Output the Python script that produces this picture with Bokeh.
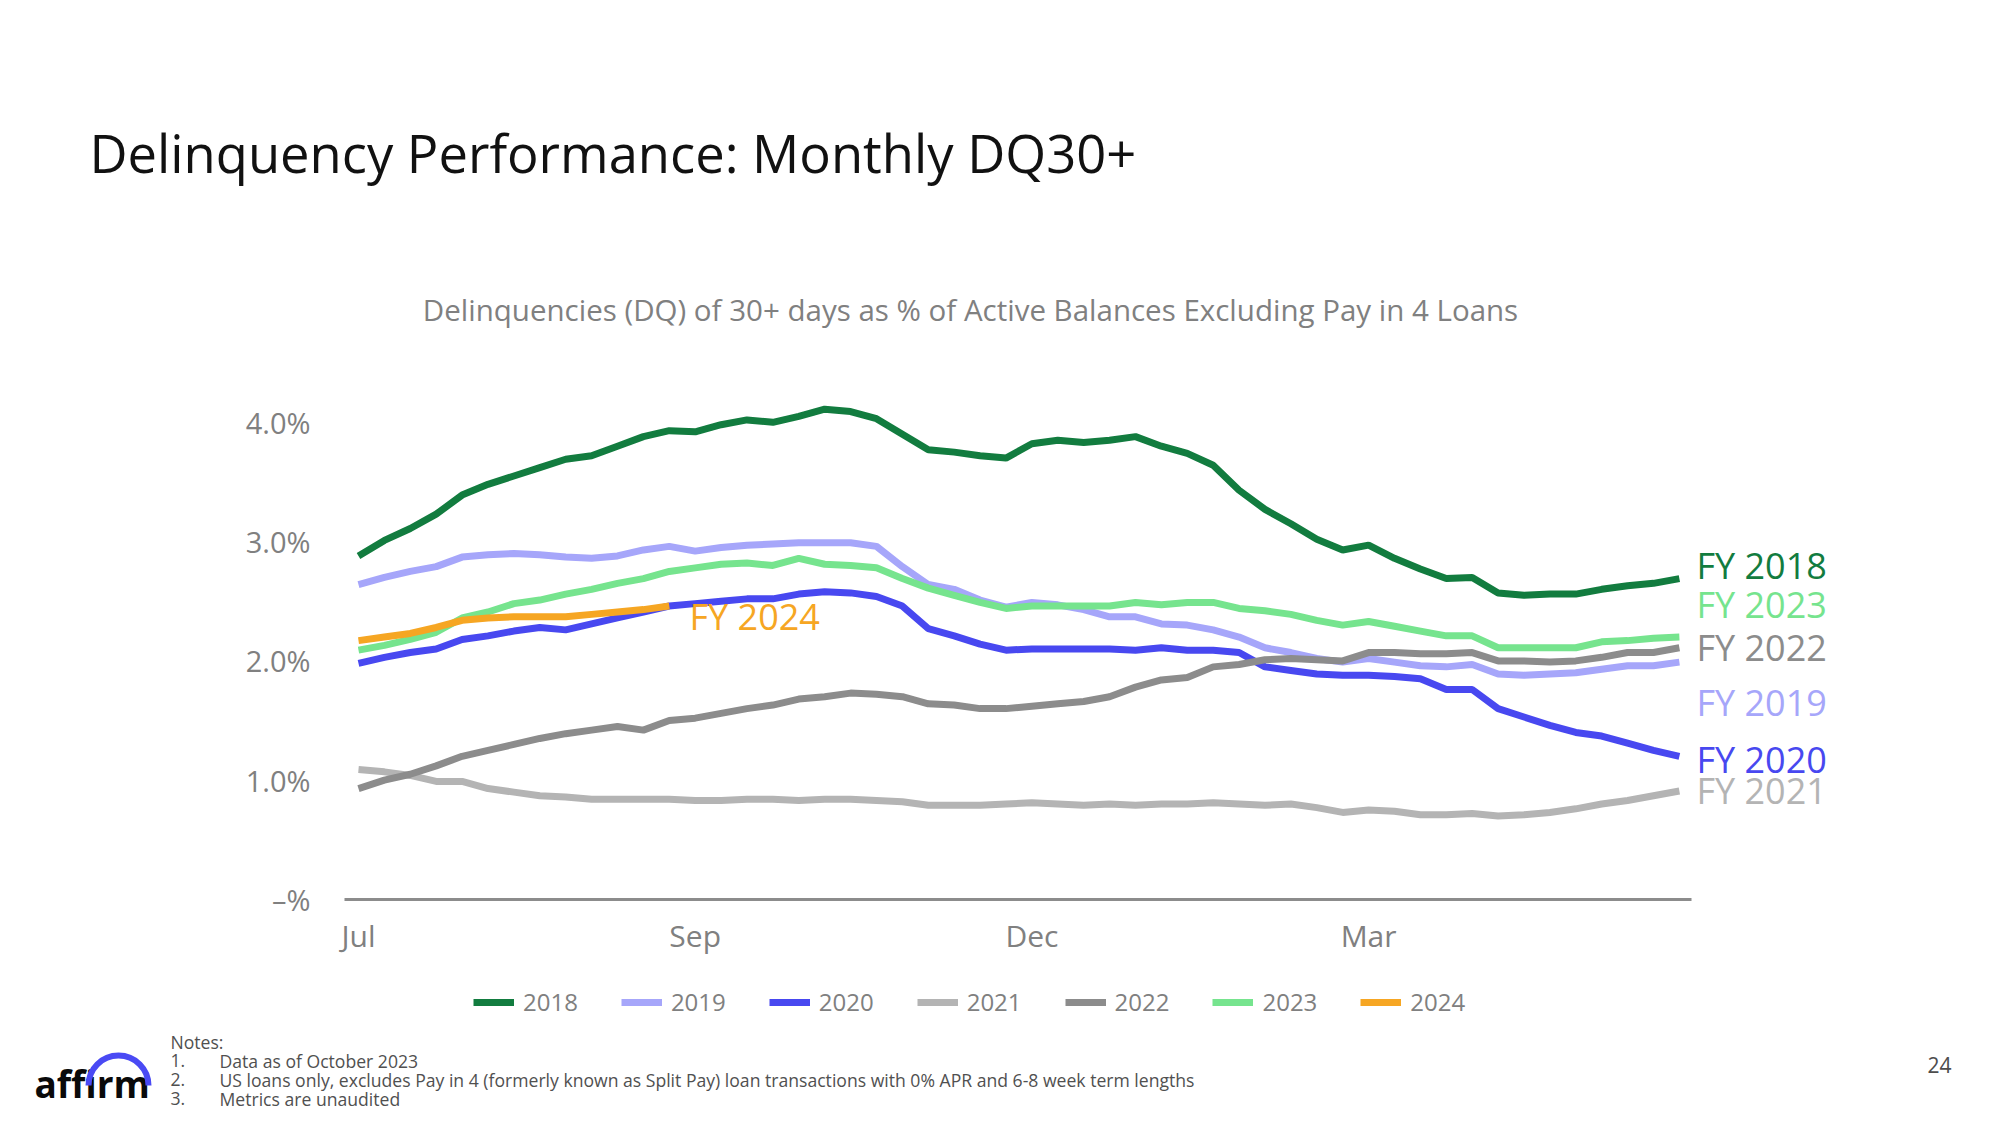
import numpy as np
from bokeh.plotting import figure
from bokeh.models import Range1d, FixedTicker, Legend, LegendItem
from bokeh.layouts import column
from bokeh.embed import file_html
from bokeh.resources import INLINE
from bokeh.core.properties import value

FONT = "Open Sans"

# ---------------- data ----------------
years = ["2018", "2019", "2020", "2021", "2022", "2023", "2024"]
x_tick_positions = [0, 13, 26, 39]
x_tick_labels = ["Jul", "Sep", "Dec", "Mar"]
y_tick_values = [0, 1, 2, 3, 4]
y_tick_labels = ["\u2013%", "1.0%", "2.0%", "3.0%", "4.0%"]

fy2018 = [2.88, 3.01, 3.11, 3.23, 3.39, 3.48, 3.55, 3.62, 3.69, 3.72,
          3.80, 3.88, 3.93, 3.92, 3.98, 4.02, 4.00, 4.05, 4.11, 4.09,
          4.03, 3.90, 3.77, 3.75, 3.72, 3.70, 3.82, 3.85, 3.83, 3.85,
          3.88, 3.80, 3.74, 3.64, 3.43, 3.27, 3.15, 3.02, 2.93, 2.97,
          2.86, 2.77, 2.69, 2.70, 2.57, 2.55, 2.56, 2.56, 2.60, 2.63,
          2.65, 2.69]
fy2019 = [2.64, 2.70, 2.75, 2.79, 2.87, 2.89, 2.90, 2.89, 2.87, 2.86,
          2.88, 2.93, 2.96, 2.92, 2.95, 2.97, 2.98, 2.99, 2.99, 2.99,
          2.96, 2.79, 2.64, 2.60, 2.51, 2.45, 2.49, 2.47, 2.43, 2.37,
          2.37, 2.31, 2.30, 2.26, 2.20, 2.11, 2.07, 2.02, 1.99, 2.02,
          1.99, 1.96, 1.95, 1.97, 1.89, 1.88, 1.89, 1.90, 1.93, 1.96,
          1.96, 1.99]
fy2020 = [1.98, 2.03, 2.07, 2.10, 2.18, 2.21, 2.25, 2.28, 2.26, 2.31,
          2.36, 2.41, 2.46, 2.48, 2.50, 2.52, 2.52, 2.56, 2.58, 2.57,
          2.54, 2.46, 2.27, 2.21, 2.14, 2.09, 2.10, 2.10, 2.10, 2.10,
          2.09, 2.11, 2.09, 2.09, 2.07, 1.95, 1.92, 1.89, 1.88, 1.88,
          1.87, 1.85, 1.76, 1.76, 1.60, 1.53, 1.46, 1.40, 1.37, 1.31,
          1.25, 1.20]
fy2021 = [1.09, 1.07, 1.04, 0.99, 0.99, 0.93, 0.90, 0.87, 0.86, 0.84,
          0.84, 0.84, 0.84, 0.83, 0.83, 0.84, 0.84, 0.83, 0.84, 0.84,
          0.83, 0.82, 0.79, 0.79, 0.79, 0.80, 0.81, 0.80, 0.79, 0.80,
          0.79, 0.80, 0.80, 0.81, 0.80, 0.79, 0.80, 0.77, 0.73, 0.75,
          0.74, 0.71, 0.71, 0.72, 0.70, 0.71, 0.73, 0.76, 0.80, 0.83,
          0.87, 0.91]
fy2022 = [0.93, 1.00, 1.05, 1.12, 1.20, 1.25, 1.30, 1.35, 1.39, 1.42,
          1.45, 1.42, 1.50, 1.52, 1.56, 1.60, 1.63, 1.68, 1.70, 1.73,
          1.72, 1.70, 1.64, 1.63, 1.60, 1.60, 1.62, 1.64, 1.66, 1.70,
          1.78, 1.84, 1.86, 1.95, 1.97, 2.01, 2.02, 2.01, 2.00, 2.07,
          2.07, 2.06, 2.06, 2.07, 2.00, 2.00, 1.99, 2.00, 2.03, 2.07,
          2.07, 2.11]
fy2023 = [2.09, 2.13, 2.18, 2.24, 2.36, 2.41, 2.48, 2.51, 2.56, 2.60,
          2.65, 2.69, 2.75, 2.78, 2.81, 2.82, 2.80, 2.86, 2.81, 2.80,
          2.78, 2.69, 2.61, 2.55, 2.49, 2.44, 2.46, 2.46, 2.46, 2.46,
          2.49, 2.47, 2.49, 2.49, 2.44, 2.42, 2.39, 2.34, 2.30, 2.33,
          2.29, 2.25, 2.21, 2.21, 2.11, 2.11, 2.11, 2.11, 2.16, 2.17,
          2.19, 2.20]
fy2024 = [2.17, 2.20, 2.23, 2.28, 2.34, 2.36, 2.37, 2.37, 2.37, 2.39,
          2.41, 2.43, 2.46]

series = [fy2018, fy2019, fy2020, fy2021, fy2022, fy2023, fy2024]
colors = ["#127C3F", "#A6A6FA", "#4848F0", "#B4B4B4", "#8C8C8C", "#76E48E", "#F6A623"]

end_label_years = ["2018", "2023", "2022", "2019", "2020", "2021"]
end_label_nudge = {"2018": 0.11, "2023": 0.27, "2022": 0.0, "2019": -0.34,
                   "2020": -0.03, "2021": 0.0, "2024": -0.09}

notes = ["Data as of October 2023",
         "US loans only, excludes Pay in 4 (formerly known as Split Pay) loan transactions with 0% APR and 6-8 week term lengths",
         "Metrics are unaudited"]

# ---------------- geometry (page pixels) ----------------
W, H = 2000, 1125
HDR_H = 380
F_LEFT, F_TOP, F_BOTTOM = 344, 398, 899
F_W = 1536
F_H = F_BOTTOM - F_TOP
MAIN_BOTTOM = 61
FT_TOP = F_BOTTOM + MAIN_BOTTOM
FT_H = H - FT_TOP
PX = 25.9          # px per weekly step
PY = 119.3         # px per 1 %
X0 = -0.54
GRAY = "#808080"
LW = 7


def blank(height):
    f = figure(width=W, height=height, x_range=Range1d(0, W), y_range=Range1d(0, height),
               x_axis_type=None, y_axis_type=None, output_backend="svg",
               toolbar_location=None, min_border=0, frame_align=False)
    f.grid.visible = False
    f.outline_line_color = None
    return f


# ---------------- header ----------------
hdr = blank(HDR_H)


def hy(page_y):
    return HDR_H - page_y


hdr.text(x=[89], y=[hy(152)], text=["Delinquency Performance: Monthly DQ30+"],
         text_font=value(FONT), text_font_size="52.5px", text_color="#111111",
         text_baseline="middle", text_align="left")
hdr.text(x=[970], y=[hy(309)],
         text=["Delinquencies (DQ) of 30+ days as % of Active Balances Excluding Pay in 4 Loans"],
         text_font=value(FONT), text_font_size="29.5px", text_color=GRAY,
         text_baseline="middle", text_align="center")

# ---------------- main chart ----------------
p = figure(frame_width=F_W, frame_height=F_H,
           x_range=Range1d(X0, X0 + F_W / PX), y_range=Range1d(0, F_H / PY),
           min_border_left=F_LEFT, min_border_right=W - F_LEFT - F_W,
           min_border_top=F_TOP - HDR_H, min_border_bottom=MAIN_BOTTOM,
           output_backend="svg", toolbar_location=None, frame_align=False)
p.grid.visible = False
p.outline_line_color = None

for yr, vals, col in zip(years, series, colors):
    p.line(x=list(np.arange(len(vals))), y=vals, line_color=col, line_width=LW)

xa = p.xaxis[0]
xa.ticker = FixedTicker(ticks=x_tick_positions)
xa.major_label_overrides = {t: l for t, l in zip(x_tick_positions, x_tick_labels)}
xa.bounds = (X0, X0 + (1691 - F_LEFT) / PX)
xa.axis_line_color = "#8C8C8C"
xa.axis_line_width = 3
xa.major_tick_line_color = None
xa.minor_tick_line_color = None
xa.major_tick_out = 0
xa.major_tick_in = 0
xa.major_label_standoff = 15
xa.major_label_text_font = FONT
xa.major_label_text_font_size = "30px"
xa.major_label_text_color = GRAY

ya = p.yaxis[0]
ya.ticker = FixedTicker(ticks=y_tick_values)
ya.major_label_overrides = {t: l for t, l in zip(y_tick_values, y_tick_labels)}
ya.axis_line_color = None
ya.major_tick_line_color = None
ya.minor_tick_line_color = None
ya.major_tick_out = 0
ya.major_tick_in = 0
ya.major_label_standoff = 34
ya.major_label_text_font = FONT
ya.major_label_text_font_size = "29px"
ya.major_label_text_color = GRAY

lab_x, lab_y, lab_t, lab_c = [], [], [], []
for yr in end_label_years:
    k = years.index(yr)
    vals = series[k]
    lab_x.append(len(vals) - 1 + 0.66)
    lab_y.append(vals[-1] + end_label_nudge[yr])
    lab_t.append("FY " + yr)
    lab_c.append(colors[k])
p.text(x=lab_x, y=lab_y, text=lab_t, text_color=lab_c, text_font=value(FONT),
       text_font_size="36px", text_baseline="middle", text_align="left")
p.text(x=[len(fy2024) - 1 + 0.78], y=[fy2024[-1] + end_label_nudge["2024"]],
       text=["FY 2024"], text_color=colors[6], text_font=value(FONT),
       text_font_size="36px", text_baseline="middle", text_align="left")

# ---------------- footer (legend, notes, logo) ----------------
ft = blank(FT_H)


def fy(page_y):
    return H - page_y


# legend swatch carriers (no visible data in this panel)
swatches = [ft.line(x=[np.nan], y=[np.nan], line_color=c, line_width=LW) for c in colors]
legend = Legend(items=[LegendItem(label=yr, renderers=[r], index=0) for yr, r in zip(years, swatches)],
                orientation="horizontal", location=(473, fy(1003) - 15))
legend.label_text_font = FONT
legend.label_text_font_size = "24px"
legend.label_text_color = GRAY
legend.glyph_width = 41
legend.glyph_height = 20
legend.label_standoff = 9
legend.spacing = 43
legend.padding = 0
legend.margin = 0
legend.border_line_color = None
legend.background_fill_alpha = 0
ft.add_layout(legend, "center")

NOTE_C = "#505050"
NOTE_FS = "17.6px"
rows = [1060, 1079, 1098]
ft.text(x=[170], y=[fy(1041)], text=["Notes:"], text_font=value(FONT),
        text_font_size=NOTE_FS, text_color=NOTE_C, text_baseline="middle", text_align="left")
ft.text(x=[170] * 3, y=[fy(v) for v in rows], text=["1.", "2.", "3."],
        text_font=value(FONT), text_font_size=NOTE_FS, text_color=NOTE_C,
        text_baseline="middle", text_align="left")
ft.text(x=[219] * 3, y=[fy(v) for v in rows], text=notes,
        text_font=value(FONT), text_font_size=NOTE_FS, text_color=NOTE_C,
        text_baseline="middle", text_align="left")
ft.text(x=[1939], y=[fy(1064)], text=["24"], text_font=value(FONT),
        text_font_size="21px", text_color="#4D4D4D", text_baseline="middle", text_align="center")
ft.text(x=[34], y=[fy(1083)], text=["affirm"], text_font=value(FONT),
        text_font_size="37px", text_font_style="bold", text_color="#0A0A0A",
        text_baseline="middle", text_align="left")
ft.arc(x=[118], y=[fy(1085)], radius=30, start_angle=0, end_angle=np.pi,
       direction="anticlock", line_color="#4A4AF4", line_width=6)

layout = column(hdr, p, ft, spacing=0)
open("out.html", "w").write(file_html(layout, INLINE))
